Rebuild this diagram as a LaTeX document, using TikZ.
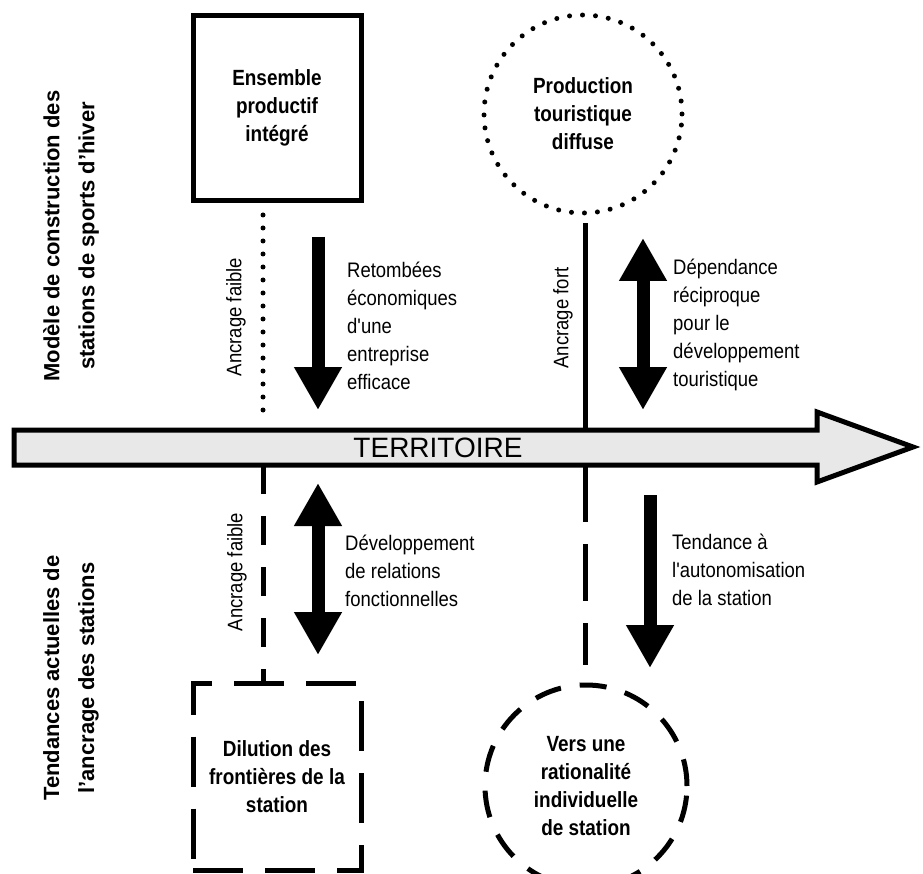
\documentclass[tikz,border=0pt]{standalone}
\usepackage{fontspec}
\setmainfont{Liberation Sans}
\newfontfamily\etroite[FakeStretch=0.88]{Liberation Sans}
\newfontfamily\grasse[FakeStretch=0.86]{Liberation Sans}
\usetikzlibrary{arrows.meta}
\definecolor{fondbande}{gray}{0.91}
\tikzset{
  Fleche/.style={line width=13pt,-{Triangle[length=43pt,width=45pt]}}, % flèche simple
  DFleche/.style={line width=13pt,{Triangle[length=43pt,width=45pt]}-{Triangle[length=43pt,width=45pt]}}, % double flèche
  Texte/.style={font=\etroite\fontsize{21}{28}\selectfont,align=left,inner sep=0pt,anchor=west},
  Ancrage/.style={font=\etroite\fontsize{21}{28}\selectfont,rotate=90,inner sep=0pt},
  Boite/.style={font=\grasse\bfseries\fontsize{22}{28}\selectfont,align=center,draw,line width=5pt},
  Titre/.style={font=\bfseries\fontsize{22}{35}\selectfont,align=center,rotate=90},
  pointille/.style={line width=5pt,line cap=round,dash pattern=on 0pt off 13pt}, % ancrage faible (haut)
  tirets/.style={line width=5pt,dash pattern=on #1 off 22pt} % tendances (bas)
}

\begin{document}
\begin{tikzpicture}[x=1pt,y=-1pt]
\useasboundingbox (0,0) rectangle (923,874);

%Repères
\coordinate (xg) at (263,0);
\coordinate (xd) at (585,0);
\coordinate (bandeN) at (0,430);
\coordinate (bandeS) at (0,465);

%Cadres
\node[Boite,minimum width=168pt,minimum height=185pt] (ensemble) at (277,108)
  {Ensemble\\productif\\intégré};
\node[Boite,circle,pointille,minimum size=198pt] (production) at (583,114)
  {Production\\touristique\\diffuse};
\node[Boite,tirets=50pt,minimum width=168pt,minimum height=187pt] (dilution) at (277,777)
  {Dilution des\\frontières de la\\station};
\node[Boite,circle,dash pattern=on 27pt off 19pt,minimum size=202pt] (vers) at (586,786)
  {Vers une\\rationalité\\individuelle\\de station};

%Liaisons au territoire
\draw[pointille] ([yshift=-12pt]ensemble.south -| xg) -- ([yshift=10pt]xg |- bandeN);
\draw[line width=5pt] ([yshift=-8pt]production.south -| xd) -- (xd |- bandeN);
\draw[tirets=29pt] (xg |- bandeS) -- (dilution.north -| xg);
\draw[tirets=57pt] (xd |- bandeS) -- ([yshift=18pt]vers.north -| xd);

%Territoire
\draw[line width=5pt,fill=fondbande,miter limit=10]
  (14,430) -- (817,430) -- (817,412) -- (913,447) -- (817,482) -- (817,465) -- (14,465) -- cycle;
\node[font=\fontsize{28}{28}\selectfont] (territoire) at (438,448) {TERRITOIRE};

%Titres
\node[Titre] (modele) at (71,236) {Modèle de construction des\\stations de sports d'hiver};
\node[Titre] (tendances) at (71,678) {Tendances actuelles de\\l'ancrage des stations};

\node[Ancrage] (faibleH) at (236,317) {Ancrage faible};
\node[Ancrage] (fort) at (563,318) {Ancrage fort};
\node[Ancrage] (faibleB) at (237,572) {Ancrage faible};

%Flèches
\coordinate (f1a) at (318,237); \coordinate (f1b) at (318,410);
\coordinate (f2a) at (643,238); \coordinate (f2b) at (643,410);
\coordinate (f3a) at (318,483); \coordinate (f3b) at (318,655);
\coordinate (f4a) at (650,495); \coordinate (f4b) at (650,668);
\draw[Fleche] (f1a) -- (f1b);
\draw[DFleche] (f2a) -- (f2b);
\draw[DFleche] (f3a) -- (f3b);
\draw[Fleche] (f4a) -- (f4b);

\node[Texte] (retombees) at (347,326) {Retombées\\économiques\\d'une\\entreprise\\efficace};
\node[Texte] (dependance) at (673,325) {Dépendance\\réciproque\\pour le\\développement\\touristique};
\node[Texte] (relations) at (345,571) {Développement\\de relations\\fonctionnelles};
\node[Texte] (tendance) at (672,570) {Tendance à\\l'autonomisation\\de la station};

\end{tikzpicture}
\end{document}
